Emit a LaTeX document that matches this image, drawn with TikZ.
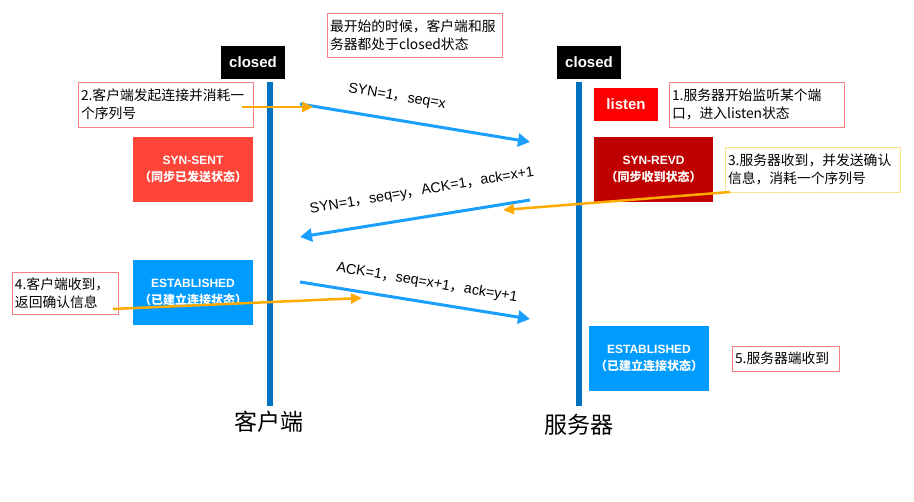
\documentclass[tikz,border=0pt]{standalone}
\usepackage{fontspec}
\setmainfont{Liberation Sans}
\newfontfamily\cjk{Noto Sans CJK SC}
\usetikzlibrary{arrows.meta}
\definecolor{lifeblue}{HTML}{0070C0}
\definecolor{msgblue}{HTML}{1A9FFF}
\definecolor{hintorange}{HTML}{FFAA00}
\definecolor{notered}{HTML}{F88080}
\definecolor{noteyellow}{HTML}{FBE38A}
\definecolor{sentred}{HTML}{FF4539}
\definecolor{revdred}{HTML}{C00000}
\definecolor{estblue}{HTML}{009BFF}
\newcommand{\zc}{{\cjk ，}}
\tikzset{
	statebox/.style={inner sep=0pt, text=white, align=center, minimum width=120pt, minimum height=65pt, font=\bfseries\fontsize{12}{17}\selectfont},
	tagbox/.style={inner sep=0pt, text=white, minimum width=64pt, minimum height=33pt, font=\bfseries\fontsize{15}{15}\selectfont},
	notebox/.style={draw=notered, line width=0.8pt, inner xsep=3pt, inner ysep=0pt, align=left, font=\cjk\fontsize{13.8}{18}\selectfont},
	lifeline/.style={lifeblue, line width=6pt},
	msg/.style={msgblue, line width=3pt, -{Triangle[length=12pt,width=13pt]}},
	hint/.style={hintorange, line width=2.5pt, -{Triangle[length=11pt,width=10pt]}},
	msglabel/.style={font=\fontsize{14.3}{14}\selectfont, inner sep=1pt},
	endlabel/.style={font=\cjk\fontsize{23}{23}\selectfont}
}
\begin{document}
\begin{tikzpicture}[x=1pt,y=-1pt]
	\useasboundingbox (0,0) rectangle (914,502);
	\coordinate (cltop) at (270,82);
	\coordinate (clbot) at (270,406);
	\coordinate (svtop) at (579,82);
	\coordinate (svbot) at (579,406);
	\draw [lifeline] (cltop) -- (clbot);
	\draw [lifeline] (svtop) -- (svbot);
	\node [endlabel] (client) at (269,422) {客户端};
	\node [endlabel] (server) at (579,425) {服务器};
	\node [tagbox, fill=black] (clclosed) at (253,62.5) {closed};
	\node [tagbox, fill=black] (svclosed) at (589,62.5) {closed};
	\node [tagbox, fill=red] (listen) at (626,104.5) {listen};
	\node [statebox, fill=sentred] (synsent) at (193,169.5) {SYN-SENT\\{\cjk\bfseries （同步已发送状态）}};
	\node [statebox, fill=revdred, minimum width=119pt] (synrevd) at (653.5,169.5) {SYN-REVD\\{\cjk\bfseries （同步收到状态）}};
	\node [statebox, fill=estblue] (clest) at (193,292.5) {ESTABLISHED\\{\cjk\bfseries （已建立连接状态）}};
	\node [statebox, fill=estblue] (svest) at (649,358.5) {ESTABLISHED\\{\cjk\bfseries （已建立连接状态）}};
	\node [notebox, text width=169pt, minimum height=44pt] (note0) at (414.5,35) {最开始的时候，客户端和服\\务器都处于closed状态};
	\node [notebox, text width=169pt, minimum height=45pt] (note2) at (165.5,104.5) {2.客户端发起连接并消耗一\\个序列号};
	\node [notebox, text width=169pt, minimum height=45pt] (note1) at (756.5,104.5) {1.服务器开始监听某个端\\口，进入listen状态};
	\node [notebox, draw=noteyellow, text width=169pt, minimum height=45pt] (note3) at (812.5,169.5) {3.服务器收到，并发送确认\\信息，消耗一个序列号};
	\node [notebox, text width=100pt, minimum height=42pt] (note4) at (65,293) {4.客户端收到，\\返回确认信息};
	\node [notebox, text width=101pt, minimum height=25pt] (note5) at (785.5,358.5) {5.服务器端收到};
	\coordinate (m1a) at (300,104);
	\coordinate (m1b) at (530,142);
	\coordinate (m2a) at (530,200);
	\coordinate (m2b) at (300,237);
	\coordinate (m3a) at (300,282);
	\coordinate (m3b) at (530,319);
	\draw [msg] (m1a) -- (m1b);
	\draw [msg] (m2a) -- (m2b);
	\draw [msg] (m3a) -- (m3b);
	\node [msglabel, rotate=-9.4] (lbl1) at (397,97) {SYN=1\zc seq=x};
	\node [msglabel, rotate=9.4] (lbl2) at (422,191) {SYN=1\zc seq=y\zc ACK=1\zc ack=x+1};
	\node [msglabel, rotate=-9.4] (lbl3) at (427,283) {ACK=1\zc seq=x+1\zc ack=y+1};
	\coordinate (h2a) at (242,107);
	\coordinate (h2b) at (313,107);
	\coordinate (h3a) at (730,192);
	\coordinate (h3b) at (503,210);
	\coordinate (h4a) at (113,309);
	\coordinate (h4b) at (362,298);
	\draw [hint] (h2a) -- (h2b);
	\draw [hint] (h3a) -- (h3b);
	\draw [hint] (h4a) -- (h4b);
\end{tikzpicture}
\end{document}
